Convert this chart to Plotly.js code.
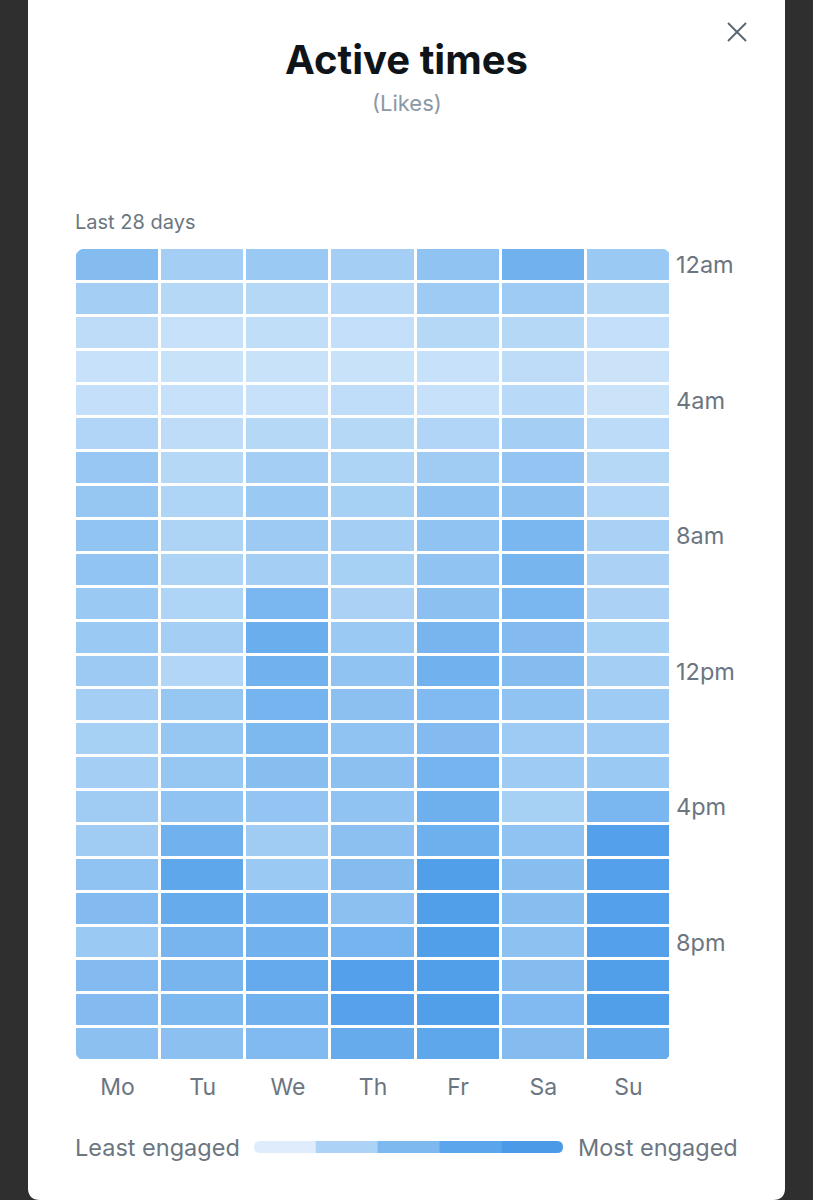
<!DOCTYPE html>
<html>
<head>
<meta charset="utf-8">
<script src="https://cdn.plot.ly/plotly-3.0.1.min.js"></script>
<style>
  html, body { margin: 0; padding: 0; background: #2f2f2f; }
  #chart { width: 813px; height: 1200px; }
</style>
</head>
<body>
<div id="chart"></div>
<script>
// ---- data ----
const days = ["Mo", "Tu", "We", "Th", "Fr", "Sa", "Su"];
const hours = [0,1,2,3,4,5,6,7,8,9,10,11,12,13,14,15,16,17,18,19,20,21,22,23];
const hourTickVals = [0, 4, 8, 12, 16, 20];
const hourTickText = ["12am", "4am", "8am", "12pm", "4pm", "8pm"];
// engagement level per hour (rows) and day (columns Mo..Su), 0 = least, 10 = most
const engagement = [
  [5.6, 4.0, 4.5, 4.0, 5.0, 6.8, 4.5],
  [4.0, 3.0, 3.0, 2.8, 4.3, 4.3, 3.0],
  [2.5, 2.0, 2.3, 2.2, 3.0, 3.0, 2.2],
  [2.0, 1.8, 1.8, 1.8, 2.0, 2.5, 1.6],
  [2.2, 2.0, 2.0, 2.4, 2.0, 2.8, 1.6],
  [3.3, 2.5, 3.0, 3.0, 3.3, 4.0, 2.6],
  [4.6, 3.0, 4.0, 3.5, 4.2, 4.8, 3.0],
  [4.7, 3.4, 4.5, 3.8, 5.0, 5.2, 3.2],
  [4.9, 3.5, 4.4, 4.0, 5.0, 6.2, 3.7],
  [4.9, 3.5, 4.0, 3.8, 5.0, 6.4, 3.6],
  [4.5, 3.4, 6.2, 3.6, 5.3, 6.2, 3.6],
  [4.5, 4.0, 7.2, 4.5, 6.3, 5.7, 3.8],
  [4.4, 3.2, 6.8, 5.0, 6.8, 5.6, 4.0],
  [4.0, 4.7, 6.5, 5.3, 5.8, 5.0, 4.3],
  [3.8, 4.7, 6.0, 5.0, 5.7, 4.3, 4.3],
  [4.0, 4.7, 5.5, 5.3, 6.5, 4.3, 4.5],
  [4.2, 5.0, 4.8, 5.0, 7.0, 3.8, 6.2],
  [4.2, 6.8, 4.2, 5.3, 7.0, 5.0, 9.0],
  [5.0, 8.0, 4.5, 5.6, 9.2, 5.5, 9.0],
  [5.7, 7.5, 6.8, 5.3, 9.3, 5.5, 9.0],
  [4.5, 6.3, 6.8, 6.5, 9.3, 5.2, 9.0],
  [5.7, 6.3, 7.6, 9.0, 9.2, 5.6, 9.2],
  [5.7, 6.0, 6.8, 8.8, 9.2, 5.8, 9.2],
  [5.3, 5.3, 5.8, 7.5, 8.0, 5.6, 7.5]
];
const titleText = "Active times";
const subtitleText = "(Likes)";
const periodText = "Last 28 days";
const legendLeft = "Least engaged";
const legendRight = "Most engaged";
const legendColors = ["#deecfc", "#acd2f6", "#7db8ef", "#5aa5eb", "#4a9ae8"];

// ---- geometry helpers (pixel -> paper) ----
const W = 813, H = 1200;
const L = 75, R = 671, T = 248, B = 1061;
const px = X => (X - L) / (R - L);
const py = Y => (B - Y) / (B - T);

const FONT = "Inter, 'Noto Sans', sans-serif";
const GRAY = "#6b7681";

const shapes = [];
// white card
(function () {
  const x0 = px(28), x1 = px(785), y0 = py(1200), y1 = py(-10);
  const rx = 12 / (R - L), ry = 12 / (B - T);
  shapes.push({
    type: "path", xref: "paper", yref: "paper", layer: "below",
    path: `M ${x0},${y1} L ${x1},${y1} L ${x1},${y0 + ry} Q ${x1},${y0} ${x1 - rx},${y0} L ${x0 + rx},${y0} Q ${x0},${y0} ${x0},${y0 + ry} Z`,
    fillcolor: "#ffffff", line: { width: 0 }
  });
})();
// rounded-corner masks on the heatmap
(function () {
  const r = 13, e = 1;
  const rx = r / (R - L), ry = r / (B - T), ex = e / (R - L), ey = e / (B - T);
  const corners = [
    [0, 1, 1, -1], [1, 1, -1, -1], [0, 0, 1, 1], [1, 0, -1, 1]
  ];
  corners.forEach(([cx, cy, sx, sy]) => {
    const ox = cx - sx * ex, oy = cy - sy * ey;
    shapes.push({
      type: "path", xref: "paper", yref: "paper", layer: "above",
      path: `M ${ox},${oy} L ${cx + sx * rx},${oy} L ${cx + sx * rx},${cy} Q ${cx},${cy} ${cx},${cy + sy * ry} L ${ox},${cy + sy * ry} Z`,
      fillcolor: "#ffffff", line: { width: 0 }
    });
  });
})();
// legend gradient bar
(function () {
  const x0 = 254, x1 = 563, yTop = 1141, yBot = 1153;
  const seg = (x1 - x0) / legendColors.length;
  const rr = (yBot - yTop) / 2;
  legendColors.forEach((c, i) => {
    const a = x0 + i * seg, b = x0 + (i + 1) * seg + (i < legendColors.length - 1 ? 0.5 : 0);
    let path;
    if (i === 0) {
      path = `M ${px(b)},${py(yTop)} L ${px(a + rr)},${py(yTop)} Q ${px(a)},${py(yTop)} ${px(a)},${py(yTop + rr)} Q ${px(a)},${py(yBot)} ${px(a + rr)},${py(yBot)} L ${px(b)},${py(yBot)} Z`;
    } else if (i === legendColors.length - 1) {
      path = `M ${px(a)},${py(yTop)} L ${px(b - rr)},${py(yTop)} Q ${px(b)},${py(yTop)} ${px(b)},${py(yTop + rr)} Q ${px(b)},${py(yBot)} ${px(b - rr)},${py(yBot)} L ${px(a)},${py(yBot)} Z`;
    } else {
      path = `M ${px(a)},${py(yTop)} L ${px(b)},${py(yTop)} L ${px(b)},${py(yBot)} L ${px(a)},${py(yBot)} Z`;
    }
    shapes.push({ type: "path", xref: "paper", yref: "paper", path, fillcolor: c, line: { width: 0 } });
  });
})();
// close "X"
shapes.push({ type: "line", xref: "paper", yref: "paper", x0: px(728), y0: py(23), x1: px(746), y1: py(41), line: { color: "#5b6873", width: 2 } });
shapes.push({ type: "line", xref: "paper", yref: "paper", x0: px(746), y0: py(23), x1: px(728), y1: py(41), line: { color: "#5b6873", width: 2 } });

const annotations = [
  { text: subtitleText, xref: "paper", yref: "paper", x: px(406.5), y: py(103), xanchor: "center", yanchor: "middle", showarrow: false, font: { family: FONT, size: 22, color: "#8b98a5" } },
  { text: periodText, xref: "paper", yref: "paper", x: px(75), y: py(222), xanchor: "left", yanchor: "middle", showarrow: false, xshift: -2, font: { family: FONT, size: 20, color: GRAY } },
  { text: legendLeft, xref: "paper", yref: "paper", x: px(75), y: py(1147), xanchor: "left", yanchor: "middle", showarrow: false, xshift: -2, font: { family: FONT, size: 23.5, color: GRAY } },
  { text: legendRight, xref: "paper", yref: "paper", x: px(578), y: py(1147), xanchor: "left", yanchor: "middle", showarrow: false, xshift: -2, font: { family: FONT, size: 23.5, color: GRAY } }
];

const trace = {
  type: "heatmap",
  x: days,
  y: hours,
  z: engagement,
  zmin: 0, zmax: 10,
  colorscale: [
    [0.0, "#dcebfb"],
    [0.2, "#c6e1f9"],
    [0.4, "#a4cef4"],
    [0.6, "#7db8ef"],
    [0.8, "#5ea7eb"],
    [1.0, "#4a99e8"]
  ],
  showscale: false,
  xgap: 3, ygap: 3,
  hoverinfo: "skip"
};

const layout = {
  width: W, height: H,
  margin: { l: L, r: W - R, t: T, b: H - B, pad: 0 },
  paper_bgcolor: "#2f2f2f",
  plot_bgcolor: "#ffffff",
  showlegend: false,
  title: {
    text: "<b>" + titleText + "</b>",
    xref: "container", yref: "container",
    x: 406.5 / W, y: 1 - 60 / H, xanchor: "center", yanchor: "middle",
    font: { family: FONT, size: 40, color: "#0f1419" }
  },
  xaxis: {
    type: "category",
    showgrid: false, zeroline: false, showline: false, ticks: "",
    tickfont: { family: FONT, size: 23, color: GRAY },
    ticklabelstandoff: 10,
    fixedrange: true
  },
  yaxis: {
    range: [23.5, -0.5],
    side: "right",
    tickmode: "array", tickvals: hourTickVals, ticktext: hourTickText,
    showgrid: false, zeroline: false, showline: false, ticks: "",
    tickfont: { family: FONT, size: 23.5, color: GRAY },
    ticklabelstandoff: 4,
    fixedrange: true
  },
  shapes: shapes,
  annotations: annotations
};

Plotly.newPlot("chart", [trace], layout, { displayModeBar: false, staticPlot: true });
</script>
</body>
</html>
